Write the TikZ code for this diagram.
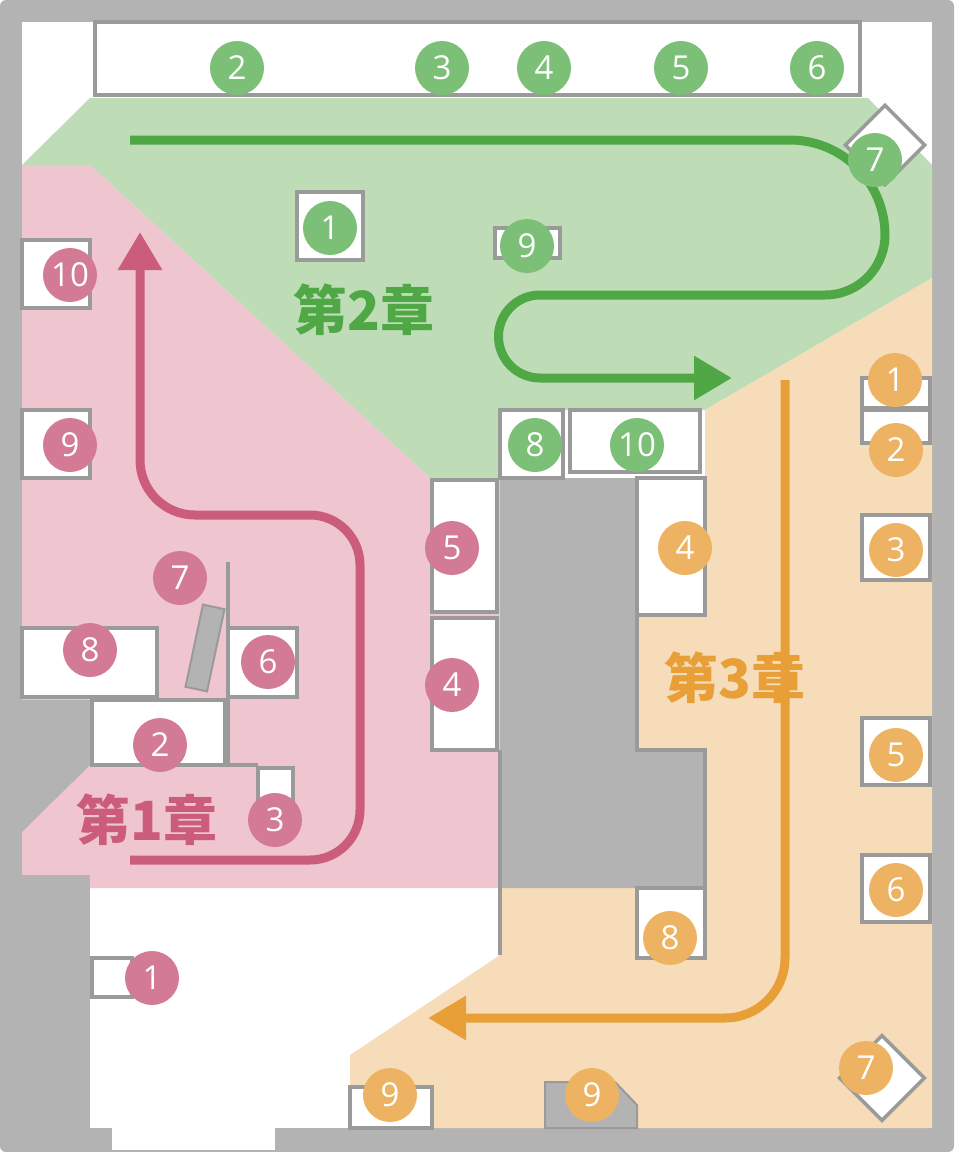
\documentclass[tikz,border=0pt]{standalone}
\usepackage{fontspec}
\setmainfont{Open Sans}
\newfontfamily\cjk{Noto Sans CJK JP}
\usetikzlibrary{arrows.meta}
\definecolor{wallgray}{HTML}{B3B3B3}
\definecolor{edgegray}{HTML}{9A9A9A}
\definecolor{greenbg}{HTML}{BEDDB7}
\definecolor{greendk}{HTML}{4FA845}
\definecolor{greenpt}{HTML}{7CC077}
\definecolor{pinkbg}{HTML}{EFC6CF}
\definecolor{pinkdk}{HTML}{CB5C7B}
\definecolor{pinkpt}{HTML}{D37B95}
\definecolor{orangebg}{HTML}{F7DCB9}
\definecolor{orangedk}{HTML}{E89F37}
\definecolor{orangept}{HTML}{EDB362}
\tikzset{
  shelf/.style={draw=edgegray,fill=white,line width=3.5pt},
  spot/.style={circle,minimum size=54pt,inner sep=0pt,text=white,font=\fontsize{33}{33}\selectfont},
  gspot/.style={spot,fill=greenpt},
  pspot/.style={spot,fill=pinkpt},
  ospot/.style={spot,fill=orangept},
  route/.style={line width=9pt,-{Triangle[length=38pt,width=42pt]}},
  chapter/.style={font=\cjk\bfseries\fontsize{54}{54}\selectfont}
}
\begin{document}
\begin{tikzpicture}[x=1pt,y=-1pt]
	\useasboundingbox (0,0) rectangle (954,1152);
	% walls and floor
	\fill[wallgray,rounded corners=6pt] (0,0) rectangle (954,1152);
	\fill[white] (22,22) rectangle (932,1128);
	\fill[white] (112,1128) rectangle (275,1150);
	% zones
	\fill[greenbg] (90,98) -- (868,98) -- (932,165) -- (932,278) -- (705,410) -- (500,410) -- (500,478) -- (430,478) -- (90,165) -- (22,165) -- cycle;
	\fill[pinkbg] (22,165) -- (90,165) -- (430,478) -- (500,478) -- (500,888) -- (22,888) -- cycle;
	\fill[orangebg] (705,410) -- (932,278) -- (932,1128) -- (350,1128) -- (350,1055) -- (500,955) -- (500,888) -- (705,888) -- (705,750) -- (637,750) -- (637,478) -- (705,478) -- cycle;
	\fill[wallgray] (22,700) -- (90,700) -- (90,765) -- (22,832) -- cycle;
	\fill[wallgray] (22,875) rectangle (90,1128);
	\fill[wallgray] (500,478) -- (637,478) -- (637,750) -- (705,750) -- (705,888) -- (500,888) -- cycle;
	\draw[edgegray,line width=3.5pt] (637,478) -- (637,750) -- (705,750) -- (705,888);
	\draw[edgegray,line width=3.5pt] (500,750) -- (500,955);
	\draw[edgegray,line width=3.5pt] (228,562) -- (228,765) -- (258,765);
	% shelves
	\draw[shelf] (95,22) rectangle (860,95);
	\draw[shelf,rotate around={45:(885,145)}] (857,117) rectangle (913,173);
	\draw[shelf] (297,192) rectangle (363,260);
	\draw[shelf] (495,228) rectangle (560,258);
	\draw[shelf] (500,410) rectangle (563,478);
	\draw[shelf] (570,410) rectangle (700,472);
	\draw[shelf] (22,240) rectangle (90,308);
	\draw[shelf] (22,410) rectangle (90,478);
	\draw[shelf] (432,480) rectangle (497,612);
	\draw[shelf] (432,618) rectangle (497,750);
	\draw[shelf] (22,628) rectangle (157,697);
	\draw[shelf] (228,628) rectangle (297,697);
	\draw[shelf] (92,700) rectangle (225,765);
	\draw[shelf] (258,768) rectangle (293,800);
	\draw[shelf] (92,958) rectangle (132,997);
	\draw[draw=edgegray,fill=wallgray,line width=2pt,rotate around={-12:(205,648)}] (194,606) rectangle (216,690);
	\draw[shelf] (862,378) rectangle (930,408);
	\draw[shelf] (862,410) rectangle (930,443);
	\draw[shelf] (862,515) rectangle (930,580);
	\draw[shelf] (637,478) rectangle (705,615);
	\draw[shelf] (862,718) rectangle (930,785);
	\draw[shelf] (862,855) rectangle (930,922);
	\draw[shelf,rotate around={45:(882,1078)}] (852,1048) rectangle (912,1108);
	\draw[shelf] (637,888) rectangle (705,958);
	\draw[shelf] (350,1087) rectangle (432,1128);
	\draw[draw=edgegray,fill=wallgray,line width=2pt] (545,1128) -- (545,1082) -- (615,1082) -- (637,1105) -- (637,1128) -- cycle;
	% routes
	\draw[route,greendk] (130,140) -- (790,140) arc[start angle=-90,end angle=0,radius=95] arc[start angle=0,end angle=90,radius=60] -- (540,295) arc[start angle=-90,end angle=-270,radius=41.5] -- (732,378);
	\draw[route,pinkdk] (130,860) -- (310,860) arc[start angle=90,end angle=0,radius=50] -- (360,565) arc[start angle=0,end angle=-90,radius=50] -- (195,515) arc[start angle=90,end angle=180,radius=55] -- (140,232);
	\draw[route,orangedk] (785,380) -- (785,958) arc[start angle=0,end angle=90,radius=60] -- (428,1018);
	% spots
	\node[gspot] (g2) at (237,68) {2};
	\node[gspot] (g3) at (442,68) {3};
	\node[gspot] (g4) at (544,68) {4};
	\node[gspot] (g5) at (681,68) {5};
	\node[gspot] (g6) at (817,68) {6};
	\node[gspot] (g7) at (875,160) {7};
	\node[gspot] (g1) at (330,228) {1};
	\node[gspot] (g9) at (527,246) {9};
	\node[gspot] (g8) at (535,445) {8};
	\node[gspot] (g10) at (637,445) {10};
	\node[pspot] (p10) at (70,275) {10};
	\node[pspot] (p9) at (70,445) {9};
	\node[pspot] (p5) at (452,548) {5};
	\node[pspot] (p4) at (452,685) {4};
	\node[pspot] (p7) at (180,578) {7};
	\node[pspot] (p8) at (90,650) {8};
	\node[pspot] (p6) at (268,662) {6};
	\node[pspot] (p2) at (160,745) {2};
	\node[pspot] (p3) at (275,820) {3};
	\node[pspot] (p1) at (152,978) {1};
	\node[ospot] (o1) at (895,380) {1};
	\node[ospot] (o2) at (896,450) {2};
	\node[ospot] (o3) at (896,550) {3};
	\node[ospot] (o4) at (685,548) {4};
	\node[ospot] (o5) at (896,755) {5};
	\node[ospot] (o6) at (896,890) {6};
	\node[ospot] (o7) at (866,1068) {7};
	\node[ospot] (o8) at (670,938) {8};
	\node[ospot] (o9a) at (390,1095) {9};
	\node[ospot] (o9b) at (592,1095) {9};
	% chapter labels
	\node[chapter,text=greendk] (ch2) at (364,310) {第2章};
	\node[chapter,text=pinkdk] (ch1) at (147,820) {第1章};
	\node[chapter,text=orangedk] (ch3) at (735,678) {第3章};
\end{tikzpicture}
\end{document}
